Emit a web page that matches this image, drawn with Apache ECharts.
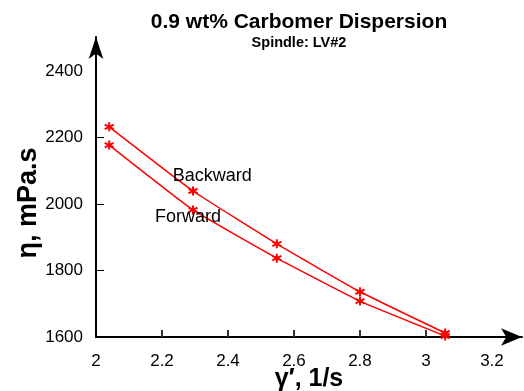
<!DOCTYPE html>
<html>
<head>
<meta charset="utf-8">
<script src="https://cdn.jsdelivr.net/npm/echarts@6/dist/echarts.min.js"></script>
<style>
  html, body { margin: 0; padding: 0; background: #fff; }
  #main { width: 524px; height: 391px; }
</style>
</head>
<body>
<div id="main"></div>
<script>
// shear rate (1/s) and viscosity (mPa.s)
var backwardX = [2.04, 2.294, 2.548, 2.80, 3.058];
var backwardY = [2232, 2039, 1880, 1736, 1612];
var forwardX = [2.04, 2.294, 2.548, 2.80, 3.058];
var forwardY = [2177, 1982, 1837, 1708, 1603];
var xTickLabels = [2, 2.2, 2.4, 2.6, 2.8, 3, 3.2];
var xTicks = [2.2, 2.4, 2.6, 2.8, 3];
var yTickLabels = [1600, 1800, 2000, 2200, 2400];
var yTicks = [1800, 2000, 2200];

function pairs(xs, ys) {
    var arr = [];
    for (var i = 0; i < xs.length; i++) {
        arr.push([xs[i], ys[i]]);
    }
    return arr;
}

var FONT = '"Liberation Sans", Arial, sans-serif';
var star = 'path://M0,-5L0,5M-4.33,-2.5L4.33,2.5M-4.33,2.5L4.33,-2.5';

// text note placed at a data coordinate
function note(name, x, y) {
    return {
        name: name,
        coord: [x, y],
        symbol: 'rect',
        symbolSize: 1,
        itemStyle: { color: 'rgba(0,0,0,0)' },
        label: { show: true, position: 'inside', formatter: name, fontFamily: FONT, fontSize: 18, color: '#000' }
    };
}

var chart = echarts.init(document.getElementById('main'));
var option = {
    animation: false,
    title: {
        text: '0.9 wt% Carbomer Dispersion',
        subtext: 'Spindle: LV#2',
        left: 294,
        textAlign: 'center',
        top: 7,
        itemGap: 2,
        textStyle: { fontFamily: FONT, fontSize: 21, fontWeight: 'bold', color: '#000' },
        subtextStyle: { fontFamily: FONT, fontSize: 14.5, fontWeight: 'bold', color: '#000' }
    },
    grid: { left: 96, right: 2, top: 37, bottom: 54, outerBoundsMode: 'none', containLabel: false },
    xAxis: {
        type: 'value',
        min: 2,
        max: 3.291,
        name: 'γ′, 1/s',
        nameLocation: 'middle',
        nameGap: 30,
        nameMoveOverlap: false,
        nameTextStyle: { fontFamily: FONT, fontSize: 25, fontWeight: 'bold', color: '#000' },
        splitLine: { show: false },
        axisLine: {
            lineStyle: { color: '#000', width: 2 },
            symbol: ['none', 'arrow'],
            symbolSize: [13, 21]
        },
        axisTick: { inside: true, length: 7, customValues: xTicks, lineStyle: { color: '#333', width: 2 } },
        axisLabel: { customValues: xTickLabels, margin: 16, fontFamily: FONT, fontSize: 17, color: '#000' }
    },
    yAxis: {
        type: 'value',
        min: 1600,
        max: 2502,
        name: 'η, mPa.s',
        nameLocation: 'middle',
        nameRotate: 90,
        nameGap: 54,
        nameMoveOverlap: false,
        nameTextStyle: { fontFamily: FONT, fontSize: 27, fontWeight: 'bold', color: '#000', padding: [0, 32, 0, 0] },
        splitLine: { show: false },
        axisLine: {
            lineStyle: { color: '#000', width: 2 },
            symbol: ['none', 'arrow'],
            symbolSize: [11, 22]
        },
        axisTick: { inside: true, length: 8, customValues: yTicks, lineStyle: { color: '#000', width: 1 } },
        axisLabel: {
            customValues: yTickLabels,
            margin: 13,
            fontFamily: FONT,
            fontSize: 17,
            color: '#000',
            formatter: function (v) { return String(v); }
        }
    },
    series: [{
            name: 'Backward',
            type: 'line',
            smooth: 0.12,
            data: pairs(backwardX, backwardY),
            symbol: star,
            symbolSize: 9,
            showAllSymbol: true,
            lineStyle: { color: '#ff0000', width: 1.5 },
            itemStyle: { color: 'none', borderColor: '#ff0000', borderWidth: 2 },
            markPoint: { data: [note('Backward', 2.352, 2084)] }
        },
        {
            name: 'Forward',
            type: 'line',
            smooth: 0.12,
            data: pairs(forwardX, forwardY),
            symbol: star,
            symbolSize: 9,
            showAllSymbol: true,
            lineStyle: { color: '#ff0000', width: 1.5 },
            itemStyle: { color: 'none', borderColor: '#ff0000', borderWidth: 2 },
            markPoint: { data: [note('Forward', 2.279, 1961)] }
        }
    ]
};
chart.setOption(option);
</script>
</body>
</html>
